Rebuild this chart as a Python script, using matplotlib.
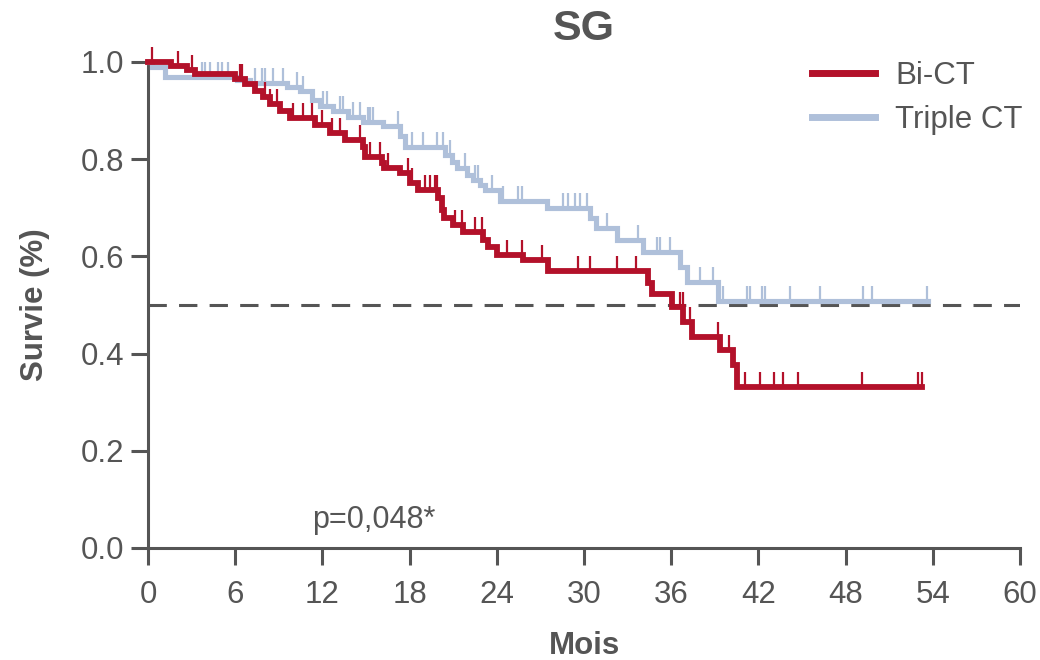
import matplotlib
matplotlib.use("Agg")
import matplotlib.pyplot as plt
import numpy as np

plt.rcParams["font.family"] = ["Liberation Sans", "DejaVu Sans"]

GREY = "#555555"
RED = "#B3112A"
BLUE = "#AFC0DA"

# Kaplan-Meier steps (time in months, survival after the event)
bi_t = [0, 1.58, 2.68, 3.23, 5.99, 6.67, 7.36, 7.91, 8.39, 9.08, 9.77, 11.49,
        12.52, 13.56, 14.79, 14.93, 16.10, 16.24, 17.34, 18.03, 18.58, 19.96,
        20.23, 20.37, 20.99, 21.68, 23.06, 23.40, 24.02, 25.81, 27.53, 34.41,
        34.69, 36.06, 36.82, 37.44, 39.36, 40.26, 40.53, 53.26]
bi_s = [1.0, 0.992, 0.984, 0.975, 0.965, 0.955, 0.940, 0.928, 0.914, 0.899,
        0.885, 0.870, 0.854, 0.840, 0.825, 0.805, 0.792, 0.782, 0.772, 0.751,
        0.737, 0.720, 0.695, 0.679, 0.665, 0.650, 0.634, 0.619, 0.603, 0.593,
        0.570, 0.545, 0.523, 0.496, 0.465, 0.434, 0.407, 0.377, 0.331, 0.331]
bi_cens = [0.28, 2.06, 3.03, 6.33, 6.5, 8.05, 8.4, 8.88, 9.98, 10.67, 11.29,
           11.97, 12.66, 13.21, 14.59, 15.28, 15.96, 16.51, 17.89, 18.17,
           19.06, 19.41, 19.75, 19.89, 21.1, 21.6, 22.5, 23.0, 24.7, 25.7,
           27.1, 29.6, 30.4, 32.3, 33.6, 36.6, 36.8, 37.3, 39.2, 40.0, 41.1,
           42.1, 43.1, 43.7, 44.7, 49.1, 53.0, 53.26]

tri_t = [0, 0.28, 1.17, 6.12, 7.02, 9.56, 10.46, 11.29, 11.84, 12.73, 13.76,
         14.79, 16.17, 17.34, 17.68, 20.44, 20.92, 21.26, 21.95, 22.36, 22.84,
         23.19, 24.22, 27.45, 30.41, 30.83, 32.27, 34.06, 36.61, 37.09, 39.22,
         53.67]
tri_s = [1.0, 0.990, 0.969, 0.963, 0.957, 0.949, 0.940, 0.922, 0.909, 0.899,
         0.887, 0.877, 0.868, 0.848, 0.825, 0.809, 0.794, 0.782, 0.767, 0.757,
         0.747, 0.737, 0.714, 0.700, 0.679, 0.658, 0.634, 0.609, 0.578, 0.547,
         0.508, 0.508]
tri_cens = [3.72, 3.92, 4.27, 4.82, 5.09, 5.50, 7.36, 7.84, 8.05, 8.60, 9.29,
            10.25, 10.67, 12.04, 12.32, 13.21, 13.42, 14.10, 14.59, 15.14,
            15.28, 15.48, 17.2, 18.17, 18.93, 19.89, 20.3, 20.8, 21.8, 22.5,
            22.7, 23.7, 24.4, 25.46, 25.73, 28.56, 28.90, 29.38, 29.73, 30.21,
            31.58, 33.72, 35.02, 35.23, 35.92, 37.98, 38.87, 39.56, 41.2, 41.4,
            42.25, 42.45, 44.2, 46.24, 49.2, 49.8, 53.6]

fig = plt.figure(figsize=(10.4, 6.6), dpi=100)
ax = fig.add_axes([0.1423, 0.1697, 0.8385, 0.7364])


def km(t, s, cens, color, lw, label):
    ax.step(t, s, where="post", color=color, lw=lw, label=label,
            solid_joinstyle="miter", clip_on=False, zorder=3)
    idx = np.searchsorted(t, cens, side="right") - 1
    ax.plot(cens, np.array(s)[idx], ls="none", marker=2, ms=11, mew=1.6,
            color=color, clip_on=False, zorder=3)


km(tri_t, tri_s, tri_cens, BLUE, 3.7, "Triple CT")
km(bi_t, bi_s, bi_cens, RED, 4.2, "Bi-CT")

ax.axhline(0.5, color=GREY, lw=2.2, dashes=(6, 4), zorder=2)

ax.set_xlim(0, 60)
ax.set_ylim(0, 1.0)
ax.set_xticks(np.arange(0, 61, 6))
ax.set_yticks(np.arange(0, 1.01, 0.2))
ax.set_yticklabels([f"{v:.1f}" for v in np.arange(0, 1.01, 0.2)])

for side in ("top", "right"):
    ax.spines[side].set_visible(False)
for side in ("left", "bottom"):
    ax.spines[side].set_color(GREY)
    ax.spines[side].set_linewidth(2.2)
ax.tick_params(colors=GREY, labelcolor=GREY, width=2.2, length=12,
               labelsize=22.5)
ax.tick_params(axis="x", pad=11)
ax.tick_params(axis="y", pad=5)

ax.set_title("SG", fontsize=31, fontweight="bold", color=GREY, pad=16)
ax.set_xlabel("Mois", fontsize=22.5, fontweight="bold", color=GREY,
              labelpad=15)
ax.set_ylabel("Survie (%)", fontsize=22.5, fontweight="bold", color=GREY,
              labelpad=22)

ax.text(11.3, 0.041, "p=0,048*", fontsize=22, color=GREY, va="baseline")

handles, labels = ax.get_legend_handles_labels()
leg = ax.legend(handles[::-1], labels[::-1], loc="upper right",
                bbox_to_anchor=(1.035, 1.06), frameon=False, fontsize=22.5,
                handlelength=2.0, handletextpad=0.65, labelspacing=0.45,
                labelcolor=GREY)
for h in leg.get_lines():
    h.set_linewidth(5)

fig.savefig("out.png", dpi=100)
